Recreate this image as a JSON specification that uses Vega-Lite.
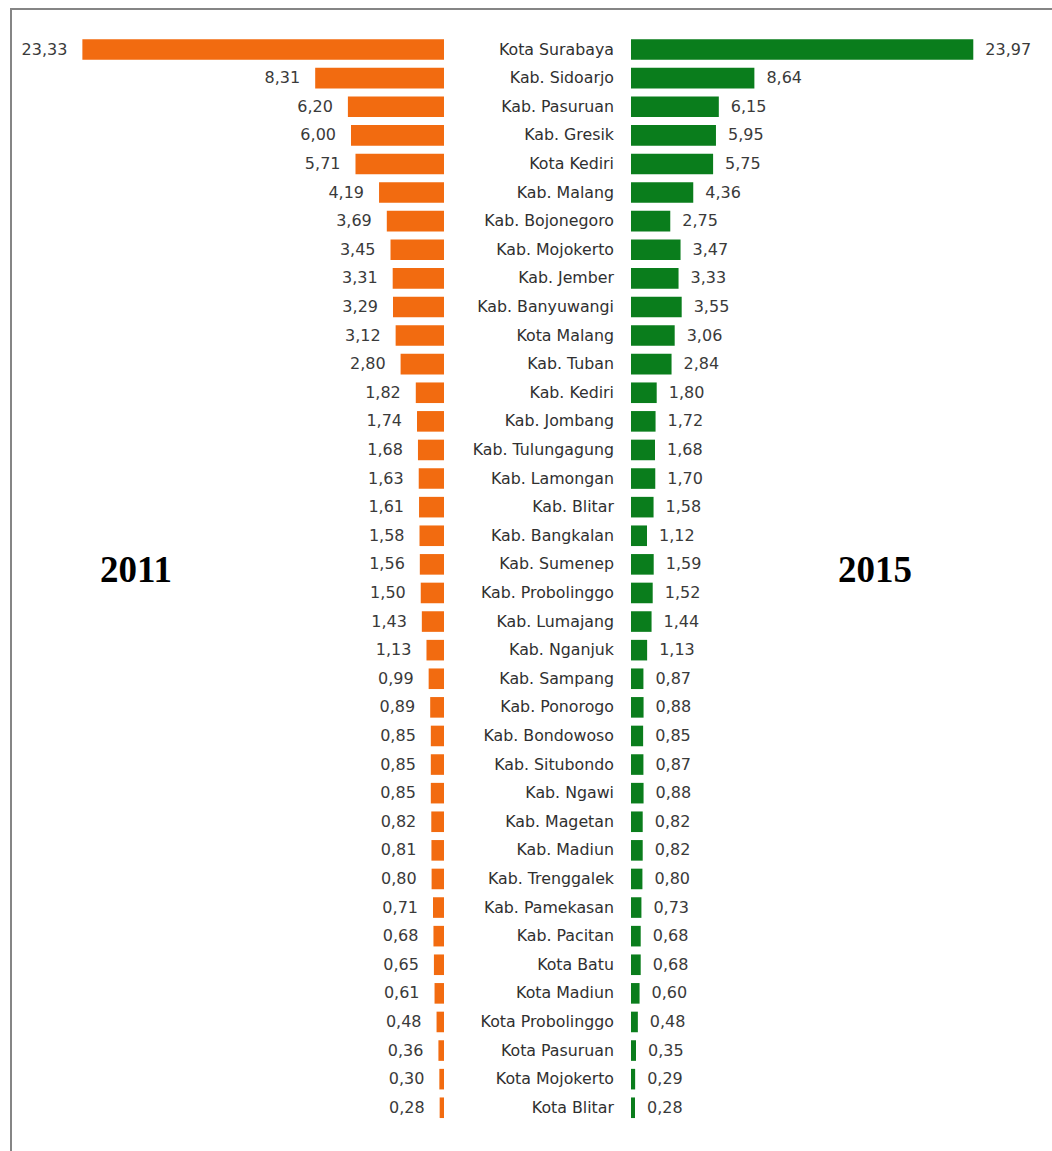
{
  "$schema": "https://vega.github.io/schema/vega-lite/v6.json",
  "autosize": {"type": "fit", "contains": "padding"},
  "width": 1052,
  "height": 1151,
  "padding": {"left": 11, "top": 9, "right": -2, "bottom": -2},
  "background": "#ffffff",
  "config": {
    "view": {"stroke": "#858585", "strokeWidth": 2},
    "locale": {"number": {"decimal": ",", "thousands": ".", "grouping": [3], "currency": ["", ""]}}
  },
  "data": {"values": [
    {"name": "Kota Surabaya", "v2011": 23.33, "v2015": 23.97},
    {"name": "Kab. Sidoarjo", "v2011": 8.31, "v2015": 8.64},
    {"name": "Kab. Pasuruan", "v2011": 6.20, "v2015": 6.15},
    {"name": "Kab. Gresik", "v2011": 6.00, "v2015": 5.95},
    {"name": "Kota Kediri", "v2011": 5.71, "v2015": 5.75},
    {"name": "Kab. Malang", "v2011": 4.19, "v2015": 4.36},
    {"name": "Kab. Bojonegoro", "v2011": 3.69, "v2015": 2.75},
    {"name": "Kab. Mojokerto", "v2011": 3.45, "v2015": 3.47},
    {"name": "Kab. Jember", "v2011": 3.31, "v2015": 3.33},
    {"name": "Kab. Banyuwangi", "v2011": 3.29, "v2015": 3.55},
    {"name": "Kota Malang", "v2011": 3.12, "v2015": 3.06},
    {"name": "Kab. Tuban", "v2011": 2.80, "v2015": 2.84},
    {"name": "Kab. Kediri", "v2011": 1.82, "v2015": 1.80},
    {"name": "Kab. Jombang", "v2011": 1.74, "v2015": 1.72},
    {"name": "Kab. Tulungagung", "v2011": 1.68, "v2015": 1.68},
    {"name": "Kab. Lamongan", "v2011": 1.63, "v2015": 1.70},
    {"name": "Kab. Blitar", "v2011": 1.61, "v2015": 1.58},
    {"name": "Kab. Bangkalan", "v2011": 1.58, "v2015": 1.12},
    {"name": "Kab. Sumenep", "v2011": 1.56, "v2015": 1.59},
    {"name": "Kab. Probolinggo", "v2011": 1.50, "v2015": 1.52},
    {"name": "Kab. Lumajang", "v2011": 1.43, "v2015": 1.44},
    {"name": "Kab. Nganjuk", "v2011": 1.13, "v2015": 1.13},
    {"name": "Kab. Sampang", "v2011": 0.99, "v2015": 0.87},
    {"name": "Kab. Ponorogo", "v2011": 0.89, "v2015": 0.88},
    {"name": "Kab. Bondowoso", "v2011": 0.85, "v2015": 0.85},
    {"name": "Kab. Situbondo", "v2011": 0.85, "v2015": 0.87},
    {"name": "Kab. Ngawi", "v2011": 0.85, "v2015": 0.88},
    {"name": "Kab. Magetan", "v2011": 0.82, "v2015": 0.82},
    {"name": "Kab. Madiun", "v2011": 0.81, "v2015": 0.82},
    {"name": "Kab. Trenggalek", "v2011": 0.80, "v2015": 0.80},
    {"name": "Kab. Pamekasan", "v2011": 0.71, "v2015": 0.73},
    {"name": "Kab. Pacitan", "v2011": 0.68, "v2015": 0.68},
    {"name": "Kota Batu", "v2011": 0.65, "v2015": 0.68},
    {"name": "Kota Madiun", "v2011": 0.61, "v2015": 0.60},
    {"name": "Kota Probolinggo", "v2011": 0.48, "v2015": 0.48},
    {"name": "Kota Pasuruan", "v2011": 0.36, "v2015": 0.35},
    {"name": "Kota Mojokerto", "v2011": 0.30, "v2015": 0.29},
    {"name": "Kota Blitar", "v2011": 0.28, "v2015": 0.28}
  ]},
  "encoding": {
    "y": {
      "field": "name", "type": "nominal", "sort": null, "axis": null,
      "scale": {"paddingInner": 0, "paddingOuter": 1, "align": 0.459}
    }
  },
  "resolve": {"scale": {"x": "independent"}},
  "layer": [
    {
      "encoding": {
        "x": {"field": "v2011", "type": "quantitative", "axis": null,
              "scale": {"domain": [-39.355, 27.935], "reverse": true, "nice": false, "zero": false}}
      },
      "layer": [
        {
          "mark": {"type": "bar", "color": "#f26b10", "height": {"band": 0.72}},
          "encoding": {"x2": {"datum": 0}}
        },
        {
          "mark": {"type": "text", "align": "right", "baseline": "middle", "dx": -15,
                   "font": "DejaVu Sans", "fontSize": 16, "color": "#3a3a3a"},
          "encoding": {"text": {"field": "v2011", "type": "quantitative", "format": ".2f"}}
        },
        {
          "transform": [{"filter": "datum.name === 'Kab. Sumenep'"}],
          "mark": {"type": "text", "align": "center", "baseline": "middle", "dy": 7,
                   "font": "Liberation Serif", "fontWeight": "bold", "fontSize": 37, "color": "#000000"},
          "encoding": {"x": {"datum": 19.87}, "text": {"value": "2011"}}
        }
      ]
    },
    {
      "encoding": {
        "x": {"field": "v2015", "type": "quantitative", "axis": null,
              "scale": {"domain": [-43.417, 29.622], "nice": false, "zero": false}}
      },
      "layer": [
        {
          "mark": {"type": "bar", "color": "#0a7d1c", "height": {"band": 0.72}},
          "encoding": {"x2": {"datum": 0}}
        },
        {
          "mark": {"type": "text", "align": "left", "baseline": "middle", "dx": 12,
                   "font": "DejaVu Sans", "fontSize": 16, "color": "#3a3a3a"},
          "encoding": {"text": {"field": "v2015", "type": "quantitative", "format": ".2f"}}
        },
        {
          "mark": {"type": "text", "align": "right", "baseline": "middle", "dx": -17,
                   "font": "DejaVu Sans", "fontSize": 15.8, "color": "#303030"},
          "encoding": {"x": {"datum": 0}, "text": {"field": "name", "type": "nominal"}}
        },
        {
          "transform": [{"filter": "datum.name === 'Kab. Sumenep'"}],
          "mark": {"type": "text", "align": "center", "baseline": "middle", "dy": 7,
                   "font": "Liberation Serif", "fontWeight": "bold", "fontSize": 37, "color": "#000000"},
          "encoding": {"x": {"datum": 17.09}, "text": {"value": "2015"}}
        }
      ]
    }
  ]
}
